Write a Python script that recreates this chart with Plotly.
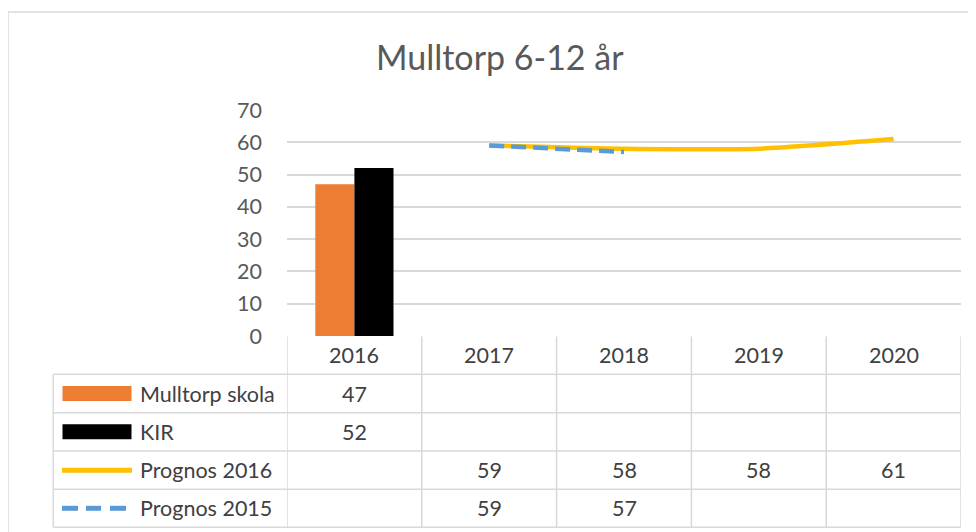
import plotly.graph_objects as go

years = ["2016", "2017", "2018", "2019", "2020"]
mulltorp_skola = [47, None, None, None, None]
kir = [52, None, None, None, None]
prognos_2016 = [None, 59, 58, 58, 61]
prognos_2015 = [None, 59, 57, None, None]
series_names = ["Mulltorp skola", "KIR", "Prognos 2016", "Prognos 2015"]
title_text = "Mulltorp 6-12 år"

OFF = 8  # page body margin
W, H = 976 - OFF, 532 - OFF
L, R, T, B = 287 - OFF, 15, 110 - OFF, 196
PW, PH = W - L - R, H - T - B
FONT = "Lato"
GRID = "#D9D9D9"
TXT = "#404040"
FS = 21.5

def py(ypix):
    return (H - B - (ypix - OFF)) / PH

def pxx(xpix):
    return (xpix - OFF - L) / PW

fig = go.Figure()
fig.add_trace(go.Bar(x=years, y=mulltorp_skola, name=series_names[0],
                     marker=dict(color="#ED7D31", line=dict(width=0))))
fig.add_trace(go.Bar(x=years, y=kir, name=series_names[1],
                     marker=dict(color="#000000", line=dict(width=0))))
fig.add_trace(go.Scatter(x=years, y=prognos_2016, name=series_names[2], mode="lines",
                         line=dict(color="#FFC000", width=4.5, shape="spline", smoothing=0.6)))
fig.add_trace(go.Scatter(x=years, y=prognos_2015, name=series_names[3], mode="lines",
                         line=dict(color="#5B9BD5", width=4.5, dash="15px,7px", shape="spline", smoothing=0.6)))

shapes = []
annotations = []

shapes.append(dict(type="line", xref="paper", yref="paper", x0=pxx(8), x1=pxx(990), y0=py(12), y1=py(12),
                   line=dict(color=GRID, width=1.5)))
shapes.append(dict(type="line", xref="paper", yref="paper", x0=pxx(8), x1=pxx(8), y0=py(12), y1=py(540),
                   line=dict(color=GRID, width=1.5)))

header_top = 336.5
row_lines = [374.3, 412.7, 451.0, 489.3, 527.3]
legend_left = 53.3
n = len(years)
for i in range(n + 1):
    xv = i - 0.5
    shapes.append(dict(type="line", xref="x", yref="paper", x0=xv, x1=xv,
                       y0=py(header_top), y1=py(row_lines[-1]), line=dict(color=GRID, width=1.5)))
shapes.append(dict(type="line", xref="paper", yref="paper", x0=pxx(legend_left), x1=pxx(legend_left),
                   y0=py(row_lines[0]), y1=py(row_lines[-1]), line=dict(color=GRID, width=1.5)))
for yl in row_lines:
    shapes.append(dict(type="line", xref="paper", yref="paper", x0=pxx(legend_left), x1=1,
                       y0=py(yl), y1=py(yl), line=dict(color=GRID, width=1.5)))

for i, yr in enumerate(years):
    annotations.append(dict(x=i, y=py((header_top + row_lines[0]) / 2), xref="x", yref="paper",
                            text=yr, showarrow=False, font=dict(family=FONT, size=FS, color=TXT),
                            xanchor="center", yanchor="middle"))

all_series = [mulltorp_skola, kir, prognos_2016, prognos_2015]
for r, (name, vals) in enumerate(zip(series_names, all_series)):
    yc = (row_lines[r] + row_lines[r + 1]) / 2
    annotations.append(dict(x=pxx(138), y=py(yc), xref="paper", yref="paper", text=name,
                            showarrow=False, font=dict(family=FONT, size=FS, color=TXT),
                            xanchor="left", yanchor="middle"))
    for i, v in enumerate(vals):
        if v is not None:
            annotations.append(dict(x=i, y=py(yc), xref="x", yref="paper", text=str(v),
                                    showarrow=False, font=dict(family=FONT, size=FS, color=TXT),
                                    xanchor="center", yanchor="middle"))

def rowc(r):
    return (row_lines[r] + row_lines[r + 1]) / 2
shapes.append(dict(type="rect", xref="paper", yref="paper", x0=pxx(62.5), x1=pxx(131.5),
                   y0=py(rowc(0) - 7.5), y1=py(rowc(0) + 7.5), fillcolor="#ED7D31", line=dict(width=0)))
shapes.append(dict(type="rect", xref="paper", yref="paper", x0=pxx(62.5), x1=pxx(131.5),
                   y0=py(rowc(1) - 7.5), y1=py(rowc(1) + 7.5), fillcolor="#000000", line=dict(width=0)))
shapes.append(dict(type="line", xref="paper", yref="paper", x0=pxx(62), x1=pxx(132),
                   y0=py(rowc(2)), y1=py(rowc(2)), line=dict(color="#FFC000", width=5)))
for a, b in [(62, 78), (86, 101), (110, 126)]:
    shapes.append(dict(type="line", xref="paper", yref="paper", x0=pxx(a), x1=pxx(b),
                       y0=py(rowc(3)), y1=py(rowc(3)), line=dict(color="#5B9BD5", width=5)))

annotations.append(dict(x=pxx(500), y=py(56), xref="paper", yref="paper", text=title_text,
                        showarrow=False, font=dict(family=FONT, size=34, color="#595959"),
                        xanchor="center", yanchor="middle"))

fig.update_layout(
    width=W, height=H,
    margin=dict(l=L, r=R, t=T, b=B, autoexpand=False),
    paper_bgcolor="white", plot_bgcolor="white",
    barmode="group", bargap=0.42, bargroupgap=0,
    showlegend=False,
    shapes=shapes, annotations=annotations,
    xaxis=dict(type="category", range=[-0.5, n - 0.5], showticklabels=False, showgrid=False,
               zeroline=False, showline=False, ticks=""),
    yaxis=dict(range=[0, 70], dtick=10, showgrid=True, gridcolor=GRID, gridwidth=1.5,
               zeroline=False, showline=False, ticks="", ticklabelstandoff=24,
               tickfont=dict(family=FONT, size=FS, color="#595959")),
)

fig.write_html("out.html")
